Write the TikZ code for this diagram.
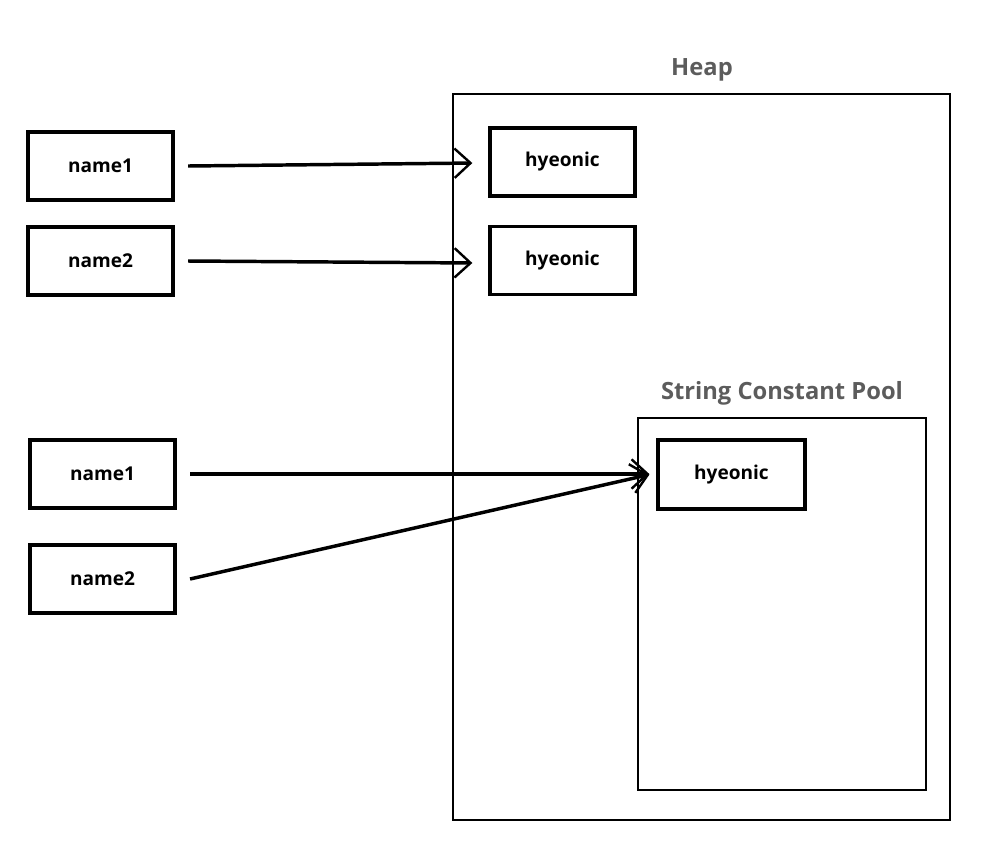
\documentclass[tikz,border=0pt]{standalone}
\usepackage{fontspec}
\setmainfont{Open Sans}
\usetikzlibrary{arrows.meta}
\definecolor{lbl}{HTML}{5C5C5C}
\tikzset{
  box/.style={draw=black, line width=2.6pt, fill=white, inner sep=0pt, font=\bfseries\fontsize{14.3pt}{17pt}\selectfont},
  area/.style={draw=black, line width=1.7pt},
  title/.style={text=lbl, font=\bfseries\fontsize{17.8pt}{21pt}\selectfont},
  ptr/.style={line width=2.6pt, -{Straight Barb[length=12pt,width=22pt,line width=1.8pt]}, shorten >=2pt},
}
\begin{document}
\begin{tikzpicture}[x=0.75pt,y=-0.75pt]
\useasboundingbox (0,0) rectangle (996,861);
% areas
\draw[area] (453,94) rectangle (950,820);
\node[title] (heaplbl) at (702,70) {Heap};
\draw[area] (638,418) rectangle (926,790);
\node[title] (scplbl) at (782,393) {String Constant Pool};
% boxes
\node[box, minimum width=108.75pt, minimum height=51pt] (n1a) at (100.5,166) {name1};
\node[box, minimum width=108.75pt, minimum height=51pt] (n2a) at (100.5,261) {name2};
\node[box, minimum width=108.75pt, minimum height=51pt] (h1) at (562.5,162) {hyeonic};
\node[box, minimum width=108.75pt, minimum height=51pt] (h2) at (562.5,260.5) {hyeonic};
\node[box, minimum width=110.25pt, minimum height=51.75pt] (h3) at (731.5,474.5) {hyeonic};
\node[box, minimum width=108.75pt, minimum height=51pt] (n1b) at (102.5,474) {name1};
\node[box, minimum width=108.75pt, minimum height=51pt] (n2b) at (102.5,579) {name2};
% connectors
\coordinate (t1) at (475,163);
\coordinate (t2) at (475,263);
\coordinate (t3) at (652,474);
\draw[ptr] ([xshift=10pt]n1a.east) -- (t1);
\draw[ptr] ([xshift=10pt]n2a.east) -- (t2);
\draw[ptr] ([xshift=10pt]n1b.east) -- (t3);
\draw[ptr] ([xshift=10pt]n2b.east) -- (t3);
\end{tikzpicture}
\end{document}
